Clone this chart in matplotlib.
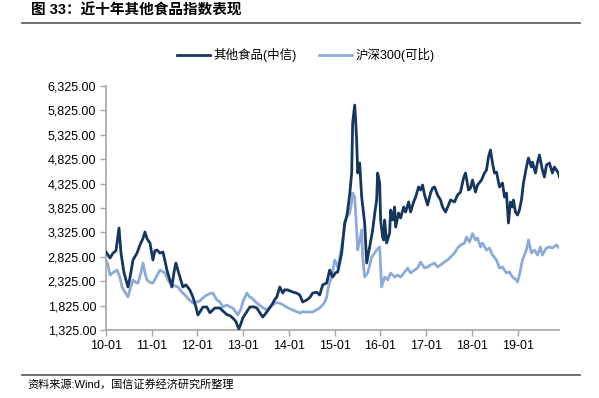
import matplotlib
matplotlib.use("Agg")
import matplotlib.pyplot as plt
from matplotlib.ticker import FuncFormatter
from matplotlib.lines import Line2D

plt.rcParams['font.family'] = ['Liberation Sans', 'Noto Sans CJK SC', 'DejaVu Sans']

# ---- data (time in decimal years since 2010-01) ----
food_t = [0.000, 0.087, 0.153, 0.218, 0.284, 0.328, 0.393, 0.480, 0.524, 0.590, 0.677, 0.742, 0.808, 0.852,
          0.895, 0.961, 1.026, 1.070, 1.114, 1.179, 1.245, 1.288, 1.332, 1.397, 1.441, 1.485, 1.528, 1.572,
          1.616, 1.681, 1.747, 1.834, 1.900, 1.965, 2.009, 2.052, 2.118, 2.205, 2.271, 2.336, 2.380, 2.489,
          2.533, 2.642, 2.707, 2.773, 2.838, 2.904, 2.948, 2.991, 3.079, 3.144, 3.231, 3.297, 3.362, 3.428,
          3.515, 3.581, 3.624, 3.690, 3.734, 3.799, 3.865, 3.908, 3.974, 4.039, 4.083, 4.170, 4.236, 4.301,
          4.389, 4.454, 4.520, 4.607, 4.672, 4.738, 4.825, 4.891, 4.956, 5.022, 5.066, 5.109, 5.153, 5.218,
          5.262, 5.284, 5.328, 5.371, 5.393, 5.437, 5.459, 5.480, 5.502, 5.546, 5.590, 5.633, 5.655, 5.699,
          5.764, 5.830, 5.873, 5.917, 5.939, 5.983, 6.004, 6.048, 6.070, 6.092, 6.135, 6.201, 6.223, 6.266,
          6.310, 6.332, 6.397, 6.441, 6.507, 6.550, 6.616, 6.659, 6.725, 6.769, 6.834, 6.878, 6.921, 6.965,
          7.031, 7.096, 7.140, 7.183, 7.249, 7.314, 7.358, 7.424, 7.489, 7.533, 7.620, 7.686, 7.751, 7.817,
          7.860, 7.926, 7.969, 8.013, 8.079, 8.122, 8.210, 8.275, 8.319, 8.362, 8.406, 8.450, 8.493, 8.537,
          8.603, 8.668, 8.712, 8.755, 8.799, 8.843, 8.886, 8.908, 8.952, 8.996, 9.039, 9.083, 9.127, 9.192,
          9.236, 9.301, 9.323, 9.389, 9.432, 9.476, 9.541, 9.585, 9.629, 9.694, 9.760, 9.803, 9.847, 9.891,
          9.913]
food_v = [2923, 2800, 2900, 2950, 3415, 2900, 2500, 2206, 2400, 2759, 2900, 3067, 3200, 3333,
          3200, 3108, 2760, 2950, 2964, 2900, 2923, 2750, 2554, 2350, 2206, 2500, 2698, 2550,
          2411, 2206, 2250, 2145, 2001, 1800, 1632, 1694, 1796, 1796, 1680, 1735, 1776, 1776,
          1735, 1640, 1620, 1571, 1500, 1345, 1450, 1571, 1700, 1796, 1800, 1776, 1680, 1591,
          1694, 1780, 1837, 1950, 2001, 2206, 2083, 2150, 2145, 2120, 2104, 2080, 2042, 1899,
          1940, 1990, 2083, 2100, 2042, 2250, 2288, 2554, 2411, 2500, 2513, 2700, 2903, 3517,
          3650, 3784, 4100, 4542, 5566, 5935, 5600, 5218, 4542, 4747, 4050, 3700, 3517, 2698,
          3026, 3374, 3700, 3989, 4542, 4337, 3579, 3230, 3169, 3579, 3108, 3313, 3784, 3579,
          3845, 3435, 3722, 3620, 3845, 3743, 3948, 3743, 3948, 4050, 4255, 4193, 4296, 4091,
          3886, 4132, 4234, 4255, 4091, 3989, 3845, 3743, 3886, 3989, 3948, 4091, 4152, 4439,
          4542, 4193, 4234, 4398, 4152, 4296, 4398, 4542, 4603, 4870, 5013, 4747, 4542, 4562,
          4255, 4337, 4050, 4132, 3517, 3948, 3845, 3989, 3743, 3681, 3784, 3989, 4337, 4665,
          4849, 4665, 4767, 4542, 4747, 4910, 4603, 4460, 4706, 4747, 4542, 4665, 4603, 4542,
          4460]

hs300_t = [0.000, 0.044, 0.087, 0.153, 0.240, 0.306, 0.349, 0.415, 0.480, 0.524, 0.590, 0.655, 0.699, 0.764,
           0.808, 0.852, 0.895, 0.961, 1.026, 1.092, 1.179, 1.245, 1.288, 1.354, 1.441, 1.507, 1.572, 1.659,
           1.725, 1.812, 1.900, 1.987, 2.052, 2.140, 2.205, 2.271, 2.336, 2.424, 2.489, 2.555, 2.642, 2.707,
           2.773, 2.882, 2.948, 2.991, 3.079, 3.144, 3.188, 3.297, 3.406, 3.515, 3.624, 3.712, 3.799, 3.887,
           3.952, 4.017, 4.083, 4.170, 4.236, 4.301, 4.389, 4.454, 4.520, 4.607, 4.672, 4.738, 4.782, 4.825,
           4.847, 4.891, 4.934, 5.000, 5.066, 5.109, 5.175, 5.218, 5.262, 5.328, 5.371, 5.393, 5.437, 5.480,
           5.502, 5.546, 5.590, 5.611, 5.655, 5.721, 5.764, 5.808, 5.873, 5.917, 5.983, 6.026, 6.092, 6.157,
           6.223, 6.310, 6.376, 6.441, 6.528, 6.594, 6.659, 6.747, 6.812, 6.878, 6.965, 7.031, 7.096, 7.183,
           7.249, 7.314, 7.402, 7.467, 7.533, 7.620, 7.686, 7.751, 7.838, 7.882, 7.948, 8.013, 8.079, 8.122,
           8.188, 8.231, 8.319, 8.384, 8.450, 8.537, 8.603, 8.668, 8.755, 8.821, 8.886, 8.974, 8.996, 9.039,
           9.105, 9.192, 9.236, 9.301, 9.367, 9.432, 9.498, 9.541, 9.629, 9.694, 9.760, 9.847, 9.913]
hs300_v = [2759, 2650, 2452, 2500, 2554, 2400, 2206, 2100, 2001, 2150, 2350, 2300, 2288, 2500,
           2698, 2500, 2350, 2300, 2288, 2400, 2554, 2520, 2493, 2350, 2247, 2230, 2206, 2100,
           2042, 1950, 1878, 1900, 1920, 2001, 2042, 2070, 2083, 1940, 1899, 1796, 1837, 1800,
           1776, 1632, 1750, 1899, 2083, 2000, 1981, 1878, 1796, 1735, 1837, 1880, 1878, 1830,
           1796, 1760, 1735, 1700, 1673, 1700, 1694, 1694, 1694, 1740, 1776, 1840, 1899, 2001,
           2145, 2300, 2411, 2759, 2616, 2800, 3169, 3450, 3640, 3722, 3950, 4132, 4050, 3374,
           2964, 3150, 3374, 2821, 2411, 2493, 2650, 2821, 2900, 2964, 3026, 2206, 2411, 2350,
           2493, 2411, 2452, 2411, 2513, 2595, 2493, 2554, 2595, 2718, 2595, 2616, 2657, 2698,
           2616, 2657, 2718, 2759, 2821, 2903, 3005, 3067, 3108, 3230, 3128, 3300, 3169, 3210,
           3026, 3108, 2964, 3005, 2862, 2759, 2595, 2616, 2493, 2513, 2411, 2350, 2309, 2452,
           2759, 2964, 3169, 2903, 2964, 2862, 3026, 2862, 3005, 3026, 3005, 3067, 3005]

x_ticks = [0, 1, 2, 3, 4, 5, 6, 7, 8, 9]
x_labels = ["10-01", "11-01", "12-01", "13-01", "14-01", "15-01", "16-01", "17-01", "18-01", "19-01"]
y_ticks = [1325, 1825, 2325, 2825, 3325, 3825, 4325, 4825, 5325, 5825, 6325]

title = "图 33：近十年其他食品指数表现"
source = "资料来源:Wind，国信证券经济研究所整理"
name_food = "其他食品(中信)"
name_hs = "沪深300(可比)"

c_dark = "#17365d"
c_light = "#8eaad8"

fig = plt.figure(figsize=(5.99, 3.98), dpi=100)
ax = fig.add_axes([106/599, 1-330/398, (559-106)/599, (330-86)/398])

ax.plot(hs300_t, hs300_v, color=c_light, lw=2.0, solid_joinstyle='round', zorder=2)
ax.plot(food_t, food_v, color=c_dark, lw=2.0, solid_joinstyle='round', zorder=3)

ax.set_xlim(0, 9.904)
ax.set_ylim(1325, 6325)
ax.set_yticks(y_ticks)
ax.yaxis.set_major_formatter(FuncFormatter(lambda v, p: f"{v:,.2f}"))
ax.set_xticks(x_ticks)
ax.set_xticklabels(x_labels)

for s in ['top', 'right']:
    ax.spines[s].set_visible(False)
for s in ['left', 'bottom']:
    ax.spines[s].set_color('#a6a6a6')
    ax.spines[s].set_linewidth(1.2)
ax.tick_params(axis='both', direction='out', length=4, width=1, color='#a6a6a6',
               labelsize=9, labelcolor='#000000', pad=3)

# legend
handles = [Line2D([], [], color=c_dark, lw=2.0), Line2D([], [], color=c_light, lw=2.0)]
fig.legend(handles, [name_food, name_hs], loc='center', bbox_to_anchor=(306/599, 1-55/398),
           ncol=2, frameon=False, fontsize=9, handlelength=2.6, handletextpad=0.3, columnspacing=1.8)

# title and source
fig.text(31/599, 1-11/398, title, fontsize=10.5, fontweight='bold', va='center', ha='left')
fig.add_artist(Line2D([22/599, 580/599], [1-23/398, 1-23/398], color='#555555', lw=1.2))
fig.add_artist(Line2D([22/599, 580/599], [1-375/398, 1-375/398], color='#555555', lw=1.2))
fig.text(27/599, 1-384/398, source, fontsize=8, va='center', ha='left')

fig.savefig("out.png", dpi=100)
